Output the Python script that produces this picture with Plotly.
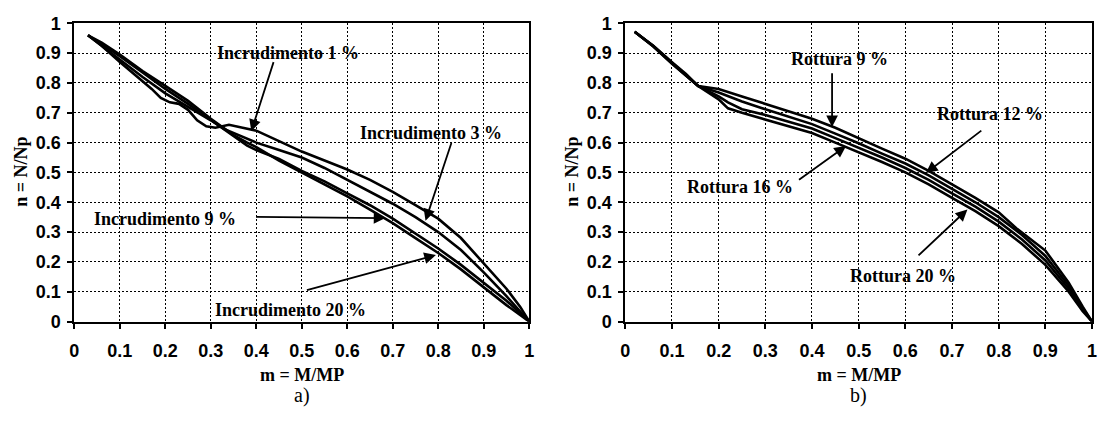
import plotly.graph_objects as go

# ---------------- data: panel a) (Incrudimento) ----------------
a_x_1 = [0.03, 0.06, 0.10, 0.14, 0.17, 0.19, 0.21, 0.23, 0.25, 0.27, 0.29, 0.31, 0.34, 0.37, 0.40, 0.45, 0.50, 0.55, 0.60, 0.65, 0.70, 0.75, 0.80, 0.85, 0.90, 0.95, 0.98, 1.00]
a_y_1 = [0.96, 0.925, 0.87, 0.82, 0.78, 0.75, 0.735, 0.73, 0.71, 0.675, 0.655, 0.65, 0.66, 0.65, 0.64, 0.605, 0.57, 0.54, 0.51, 0.475, 0.435, 0.39, 0.345, 0.28, 0.195, 0.11, 0.05, 0.0]

a_x_3 = [0.03, 0.06, 0.10, 0.15, 0.20, 0.25, 0.30, 0.33, 0.36, 0.40, 0.45, 0.50, 0.55, 0.60, 0.65, 0.70, 0.75, 0.80, 0.85, 0.90, 0.95, 1.00]
a_y_3 = [0.96, 0.925, 0.88, 0.82, 0.765, 0.72, 0.675, 0.645, 0.625, 0.60, 0.575, 0.55, 0.515, 0.475, 0.435, 0.395, 0.35, 0.30, 0.24, 0.165, 0.085, 0.0]

a_x_9 = [0.03, 0.06, 0.10, 0.15, 0.20, 0.25, 0.30, 0.35, 0.38, 0.40, 0.45, 0.50, 0.55, 0.60, 0.65, 0.70, 0.75, 0.80, 0.85, 0.90, 0.95, 1.00]
a_y_9 = [0.96, 0.93, 0.89, 0.835, 0.78, 0.73, 0.675, 0.62, 0.59, 0.575, 0.545, 0.505, 0.47, 0.43, 0.39, 0.345, 0.295, 0.245, 0.19, 0.13, 0.07, 0.0]

a_x_20 = [0.03, 0.06, 0.10, 0.15, 0.20, 0.25, 0.30, 0.35, 0.38, 0.40, 0.45, 0.50, 0.55, 0.60, 0.65, 0.70, 0.75, 0.80, 0.85, 0.90, 0.95, 1.00]
a_y_20 = [0.96, 0.935, 0.895, 0.84, 0.79, 0.74, 0.68, 0.625, 0.60, 0.585, 0.54, 0.50, 0.46, 0.42, 0.375, 0.33, 0.28, 0.23, 0.175, 0.115, 0.055, 0.0]

# ---------------- data: panel b) (Rottura) ----------------
b_x_9 = [0.02, 0.06, 0.10, 0.13, 0.156, 0.20, 0.25, 0.30, 0.35, 0.40, 0.45, 0.50, 0.55, 0.60, 0.65, 0.70, 0.75, 0.80, 0.84, 0.90, 0.95, 0.98, 1.00]
b_y_9 = [0.972, 0.925, 0.87, 0.83, 0.79, 0.78, 0.755, 0.73, 0.705, 0.68, 0.65, 0.614, 0.58, 0.546, 0.505, 0.46, 0.415, 0.366, 0.31, 0.238, 0.13, 0.05, 0.0]

b_x_12 = [0.02, 0.06, 0.10, 0.13, 0.156, 0.20, 0.25, 0.30, 0.35, 0.40, 0.45, 0.50, 0.55, 0.60, 0.65, 0.70, 0.75, 0.80, 0.85, 0.90, 0.95, 0.98, 1.00]
b_y_12 = [0.972, 0.924, 0.868, 0.828, 0.79, 0.768, 0.738, 0.712, 0.687, 0.662, 0.63, 0.598, 0.563, 0.53, 0.49, 0.445, 0.40, 0.35, 0.29, 0.22, 0.12, 0.045, 0.0]

b_x_16 = [0.02, 0.06, 0.10, 0.13, 0.156, 0.20, 0.22, 0.25, 0.30, 0.35, 0.40, 0.45, 0.50, 0.55, 0.60, 0.65, 0.70, 0.75, 0.80, 0.85, 0.90, 0.95, 0.98, 1.00]
b_y_16 = [0.972, 0.923, 0.866, 0.826, 0.79, 0.755, 0.735, 0.712, 0.693, 0.67, 0.647, 0.615, 0.583, 0.55, 0.515, 0.475, 0.43, 0.385, 0.335, 0.275, 0.205, 0.11, 0.04, 0.0]

b_x_20 = [0.02, 0.06, 0.10, 0.13, 0.156, 0.20, 0.22, 0.25, 0.30, 0.35, 0.40, 0.45, 0.50, 0.55, 0.60, 0.65, 0.70, 0.75, 0.80, 0.85, 0.90, 0.95, 0.98, 1.00]
b_y_20 = [0.972, 0.922, 0.864, 0.824, 0.79, 0.745, 0.715, 0.70, 0.677, 0.655, 0.632, 0.60, 0.568, 0.535, 0.50, 0.46, 0.415, 0.37, 0.32, 0.26, 0.19, 0.10, 0.035, 0.0]

# tick values
tick_vals = [0, 0.1, 0.2, 0.3, 0.4, 0.5, 0.6, 0.7, 0.8, 0.9, 1]

# annotations: label text position, arrow tail, arrow tip (data coords)
a_labels = ["Incrudimento 1 %", "Incrudimento 3 %", "Incrudimento 9 %", "Incrudimento 20 %"]
a_text_pos = [(0.47, 0.90), (0.784, 0.631), (0.2, 0.344), (0.475, 0.04)]
a_arrow_tail = [(0.439, 0.875), (0.83, 0.604), (0.396, 0.351), (0.508, 0.104)]
a_arrow_tip = [(0.389, 0.638), (0.772, 0.338), (0.684, 0.347), (0.795, 0.223)]

b_labels = ["Rottura 9 %", "Rottura 12 %", "Rottura 16 %", "Rottura 20 %"]
b_text_pos = [(0.458, 0.88), (0.781, 0.695), (0.245, 0.451), (0.595, 0.154)]
b_arrow_tail = [(0.443, 0.838), (0.766, 0.644), (0.369, 0.472), (0.625, 0.217)]
b_arrow_tip = [(0.443, 0.652), (0.644, 0.498), (0.473, 0.589), (0.733, 0.376)]

SERIF = "Liberation Serif"
SANS = "Liberation Sans"

fig = go.Figure()

line_style = dict(color="black", width=2.6)
for xs, ys in [(a_x_1, a_y_1), (a_x_3, a_y_3), (a_x_9, a_y_9), (a_x_20, a_y_20)]:
    fig.add_trace(go.Scatter(x=xs, y=ys, mode="lines", line=line_style, xaxis="x", yaxis="y", showlegend=False))
for xs, ys in [(b_x_9, b_y_9), (b_x_12, b_y_12), (b_x_16, b_y_16), (b_x_20, b_y_20)]:
    fig.add_trace(go.Scatter(x=xs, y=ys, mode="lines", line=line_style, xaxis="x2", yaxis="y2", showlegend=False))

W, H = 1100, 423
ydom = [1 - 327 / H, 1 - 14 / H]

axis_common = dict(
    range=[0, 1], tickvals=tick_vals, ticktext=[("<b>%g</b>" % v) for v in tick_vals],
    showgrid=True, gridcolor="black", gridwidth=1.3, griddash="1.5px,2.5px",
    showline=True, linecolor="black", linewidth=2, mirror=True,
    ticks="outside", ticklen=5, tickwidth=2, tickcolor="black",
    tickfont=dict(family=SANS, size=18, color="black"),
    zeroline=False, fixedrange=True,
)

layout = dict(
    width=W, height=H, margin=dict(l=0, r=0, t=0, b=0),
    paper_bgcolor="white", plot_bgcolor="white",
    xaxis=dict(domain=[70 / W, 529 / W], anchor="y", ticklabelstandoff=7, **axis_common),
    yaxis=dict(domain=ydom, anchor="x", ticklabelstandoff=3, **axis_common),
    xaxis2=dict(domain=[626 / W, 1097 / W], anchor="y2", ticklabelstandoff=7, **axis_common),
    yaxis2=dict(domain=ydom, anchor="x2", ticklabelstandoff=3, **axis_common),
    showlegend=False,
)
fig.update_layout(**layout)

ann_font = dict(family=SERIF, size=18, color="black")
annotations = []
for (labels, tpos, tails, tips, xr, yr) in [
    (a_labels, a_text_pos, a_arrow_tail, a_arrow_tip, "x", "y"),
    (b_labels, b_text_pos, b_arrow_tail, b_arrow_tip, "x2", "y2"),
]:
    for lab, (tx, ty), (ax_, ay_), (hx, hy) in zip(labels, tpos, tails, tips):
        annotations.append(dict(x=hx, y=hy, ax=ax_, ay=ay_, xref=xr, yref=yr, axref=xr, ayref=yr,
                                text="", showarrow=True, arrowhead=2, arrowsize=1.3, arrowwidth=1.8,
                                arrowcolor="black"))
        annotations.append(dict(x=tx, y=ty, xref=xr, yref=yr, text="<b>" + lab + "</b>", showarrow=False,
                                font=ann_font, xanchor="center", yanchor="middle"))

# axis titles and panel captions
title_font = dict(family=SERIF, size=18, color="black")
for cx, ty_x, cap in [((70 + 529) / 2, 16, "a)"), ((626 + 1097) / 2, 572, "b)")]:
    annotations.append(dict(x=cx / W, y=1 - 383 / H, xref="paper", yref="paper", text="<b>m = M/MP</b>",
                            showarrow=False, font=title_font, xanchor="center", yanchor="middle"))
    annotations.append(dict(x=cx / W, y=1 - 405 / H, xref="paper", yref="paper", text=cap,
                            showarrow=False, font=dict(family=SERIF, size=20, color="black"),
                            xanchor="center", yanchor="middle"))
    annotations.append(dict(x=ty_x / W, y=1 - 170 / H, xref="paper", yref="paper", text="<b>n = N/Np</b>",
                            showarrow=False, font=title_font, textangle=-90,
                            xanchor="center", yanchor="middle"))

fig.update_layout(annotations=annotations)
fig.write_html("out.html")
